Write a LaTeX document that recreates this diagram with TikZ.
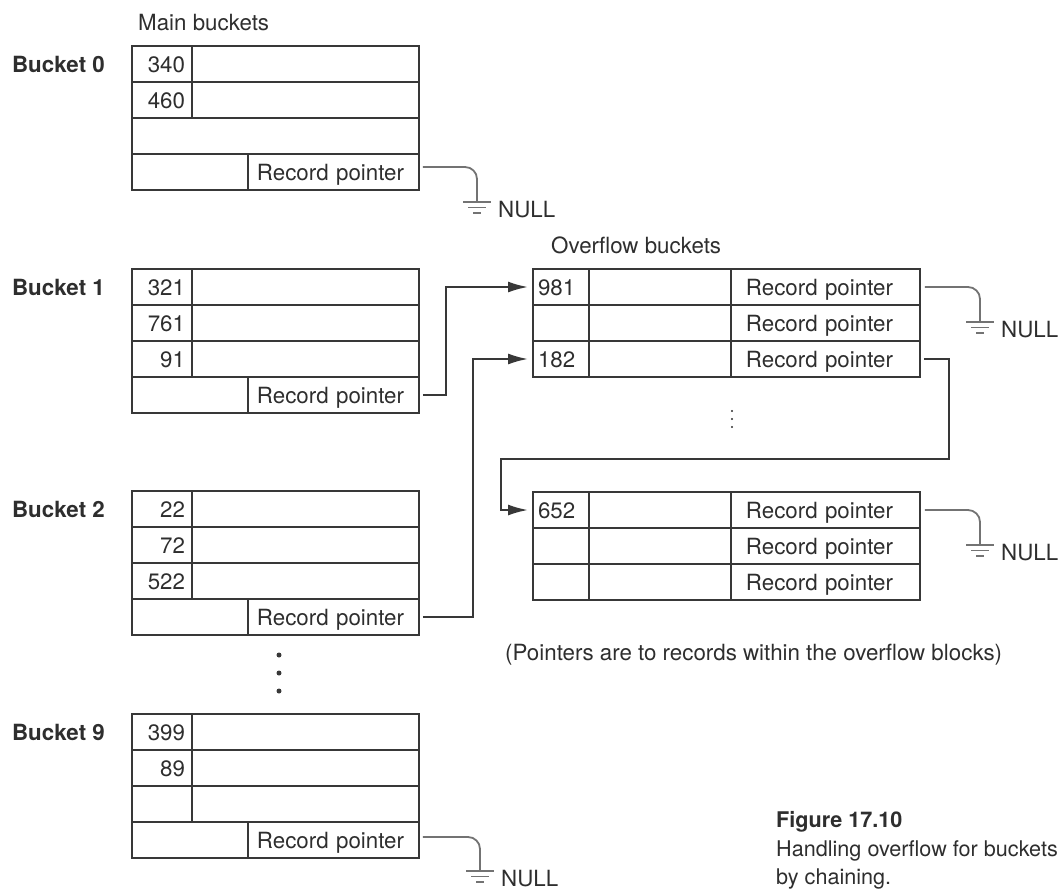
\documentclass[tikz,border=0pt]{standalone}
\usepackage{fontspec}
\setmainfont{TeX Gyre Heros}
\usepackage{tikz}
\usetikzlibrary{arrows.meta,positioning,calc}
\usepackage{xcolor}

\definecolor{boxline}{gray}{0.22}
\definecolor{txtgray}{gray}{0.18}
\definecolor{gndgray}{gray}{0.45}
\newcommand{\figfont}{\fontsize{12.7}{15.2}\selectfont}

% ground symbol with NULL below a coordinate
\newcommand{\nullground}[2]{%
  \draw[gndwire] ([xshift=-0.28cm]#1) -- ([xshift=0.28cm]#1);
  \draw[gndwire] ([xshift=-0.18cm,yshift=-0.11cm]#1) -- ([xshift=0.18cm,yshift=-0.11cm]#1);
  \draw[gndwire] ([xshift=-0.08cm,yshift=-0.22cm]#1) -- ([xshift=0.08cm,yshift=-0.22cm]#1);
  \node[nulltext] (#2) at ([xshift=0.3cm,yshift=-0.15cm]#1) {NULL};}

\tikzset{
  every node/.style={font=\figfont, text=txtgray},
  cell/.style={draw=boxline, line width=0.04cm, anchor=north west, outer sep=0pt,
    inner ysep=0pt, minimum height=0.72cm, text height=9.2pt, text depth=0pt},
  numcell/.style={cell, text width=0.92cm, inner xsep=0.14cm, align=right},
  datcell/.style={cell, minimum width=4.54cm, inner xsep=0pt},
  fullcell/.style={cell, minimum width=5.74cm, inner xsep=0pt},
  padcell/.style={cell, minimum width=2.32cm, inner xsep=0pt},
  ptrcell/.style={cell, text width=3.06cm, inner xsep=0.18cm, align=left},
  ovnum/.style={cell, text width=0.92cm, inner xsep=0.1cm, align=left},
  ovdat/.style={cell, minimum width=2.84cm, inner xsep=0pt},
  ovptr/.style={cell, text width=3.18cm, inner xsep=0.3cm, align=left},
  bktlabel/.style={font=\figfont\bfseries},
  plain/.style={anchor=base west},
  nulltext/.style={anchor=west},
  ptrarrow/.style={draw=boxline, line width=0.04cm, -{Latex[length=0.4cm,width=0.22cm]},
    shorten <=0.08cm, shorten >=0.1cm},
  gndwire/.style={draw=gndgray, line width=0.036cm, rounded corners=0.24cm},
}

\begin{document}
\begin{tikzpicture}[x=0.02cm,y=-0.02cm]
  \useasboundingbox (0,0) rectangle (1064,894);

  \node[plain] (mainlbl) at (132,30) {Main buckets};

  % Bucket 0: 340, 460, empty, pointer
  \node[numcell] (b0n1) at (132,46) {340};
  \node[datcell] (b0d1) at (b0n1.north east) {};
  \node[numcell] (b0n2) at (b0n1.south west) {460};
  \node[datcell] (b0d2) at (b0n2.north east) {};
  \node[fullcell] (b0f3) at (b0n2.south west) {};
  \node[padcell] (b0e4) at (b0f3.south west) {};
  \node[ptrcell] (b0p) at (b0e4.north east) {Record pointer};
  \node[bktlabel, left=0.42cm of b0n1] (lb0) {Bucket 0};

  % Bucket 1: 321, 761, 91, pointer
  \node[numcell] (b1n1) at (132,269) {321};
  \node[datcell] (b1d1) at (b1n1.north east) {};
  \node[numcell] (b1n2) at (b1n1.south west) {761};
  \node[datcell] (b1d2) at (b1n2.north east) {};
  \node[numcell] (b1n3) at (b1n2.south west) {91};
  \node[datcell] (b1d3) at (b1n3.north east) {};
  \node[padcell] (b1e4) at (b1n3.south west) {};
  \node[ptrcell] (b1p) at (b1e4.north east) {Record pointer};
  \node[bktlabel, left=0.42cm of b1n1] (lb1) {Bucket 1};

  % Bucket 2: 22, 72, 522, pointer
  \node[numcell] (b2n1) at (132,491) {22};
  \node[datcell] (b2d1) at (b2n1.north east) {};
  \node[numcell] (b2n2) at (b2n1.south west) {72};
  \node[datcell] (b2d2) at (b2n2.north east) {};
  \node[numcell] (b2n3) at (b2n2.south west) {522};
  \node[datcell] (b2d3) at (b2n3.north east) {};
  \node[padcell] (b2e4) at (b2n3.south west) {};
  \node[ptrcell] (b2p) at (b2e4.north east) {Record pointer};
  \node[bktlabel, left=0.42cm of b2n1] (lb2) {Bucket 2};

  % dots between bucket 2 and bucket 9
  \fill[boxline] (279,655) circle (0.05cm);
  \fill[boxline] (279,673) circle (0.05cm);
  \fill[boxline] (279,691) circle (0.05cm);

  % Bucket 9: 399, 89, empty, pointer
  \node[numcell] (b9n1) at (132,714) {399};
  \node[datcell] (b9d1) at (b9n1.north east) {};
  \node[numcell] (b9n2) at (b9n1.south west) {89};
  \node[datcell] (b9d2) at (b9n2.north east) {};
  \node[numcell] (b9n3) at (b9n2.south west) {};
  \node[datcell] (b9d3) at (b9n3.north east) {};
  \node[padcell] (b9e4) at (b9n3.south west) {};
  \node[ptrcell] (b9p) at (b9e4.north east) {Record pointer};
  \node[bktlabel, left=0.42cm of b9n1] (lb9) {Bucket 9};

  \node[plain] (ovlbl) at (545,253) {Overflow buckets};

  % Overflow block 1: 981, empty, 182
  \node[ovnum] (o1n1) at (533,269) {981};
  \node[ovdat] (o1d1) at (o1n1.north east) {};
  \node[ovptr] (o1p1) at (o1d1.north east) {Record pointer};
  \node[ovnum] (o1n2) at (o1n1.south west) {};
  \node[ovdat] (o1d2) at (o1n2.north east) {};
  \node[ovptr] (o1p2) at (o1d2.north east) {Record pointer};
  \node[ovnum] (o1n3) at (o1n2.south west) {182};
  \node[ovdat] (o1d3) at (o1n3.north east) {};
  \node[ovptr] (o1p3) at (o1d3.north east) {Record pointer};

  % small dots between the overflow blocks
  \fill[txtgray] (732,411) circle (0.024cm);
  \fill[txtgray] (732,419) circle (0.024cm);
  \fill[txtgray] (732,427) circle (0.024cm);

  % Overflow block 2: 652, empty, empty
  \node[ovnum] (o2n1) at (533,492) {652};
  \node[ovdat] (o2d1) at (o2n1.north east) {};
  \node[ovptr] (o2p1) at (o2d1.north east) {Record pointer};
  \node[ovnum] (o2n2) at (o2n1.south west) {};
  \node[ovdat] (o2d2) at (o2n2.north east) {};
  \node[ovptr] (o2p2) at (o2d2.north east) {Record pointer};
  \node[ovnum] (o2n3) at (o2n2.south west) {};
  \node[ovdat] (o2d3) at (o2n3.north east) {};
  \node[ovptr] (o2p3) at (o2d3.north east) {Record pointer};

  % pointer chains
  \coordinate (chainturn) at (501,459);
  \draw[ptrarrow] (b1p.east) -- ++(0.54cm,0) |- (o1n1.west);
  \draw[ptrarrow] (b2p.east) -- ++(1.08cm,0) |- (o1n3.west);
  \draw[ptrarrow] (o1p3.east) -- ++(0.58cm,0) |- (chainturn) |- (o2n1.west);

  % NULL ends
  \coordinate (g0) at (477,202);
  \coordinate (g9) at (480,871);
  \coordinate (go1) at (980,322);
  \coordinate (go2) at (980,545);
  \draw[gndwire] ([xshift=0.08cm,yshift=0.1cm]b0p.east) -| (g0);
  \draw[gndwire] ([xshift=0.08cm,yshift=0.06cm]b9p.east) -| (g9);
  \draw[gndwire] ([xshift=0.1cm]o1p1.east) -| (go1);
  \draw[gndwire] ([xshift=0.1cm]o2p1.east) -| (go2);
  \nullground{g0}{null0}
  \nullground{g9}{null9}
  \nullground{go1}{nullo1}
  \nullground{go2}{nullo2}

  \node[plain] (note) at (499,660) {(Pointers are to records within the overflow blocks)};

  % caption
  \node[plain, font=\fontsize{12.3}{15}\selectfont\bfseries] (figno) at (770,827) {Figure 17.10};
  \node[plain, font=\fontsize{12.3}{15}\selectfont] (figcap1) at (770,856) {Handling overflow for buckets};
  \node[plain, font=\fontsize{12.3}{15}\selectfont] (figcap2) at (770,884) {by chaining.};
\end{tikzpicture}
\end{document}
